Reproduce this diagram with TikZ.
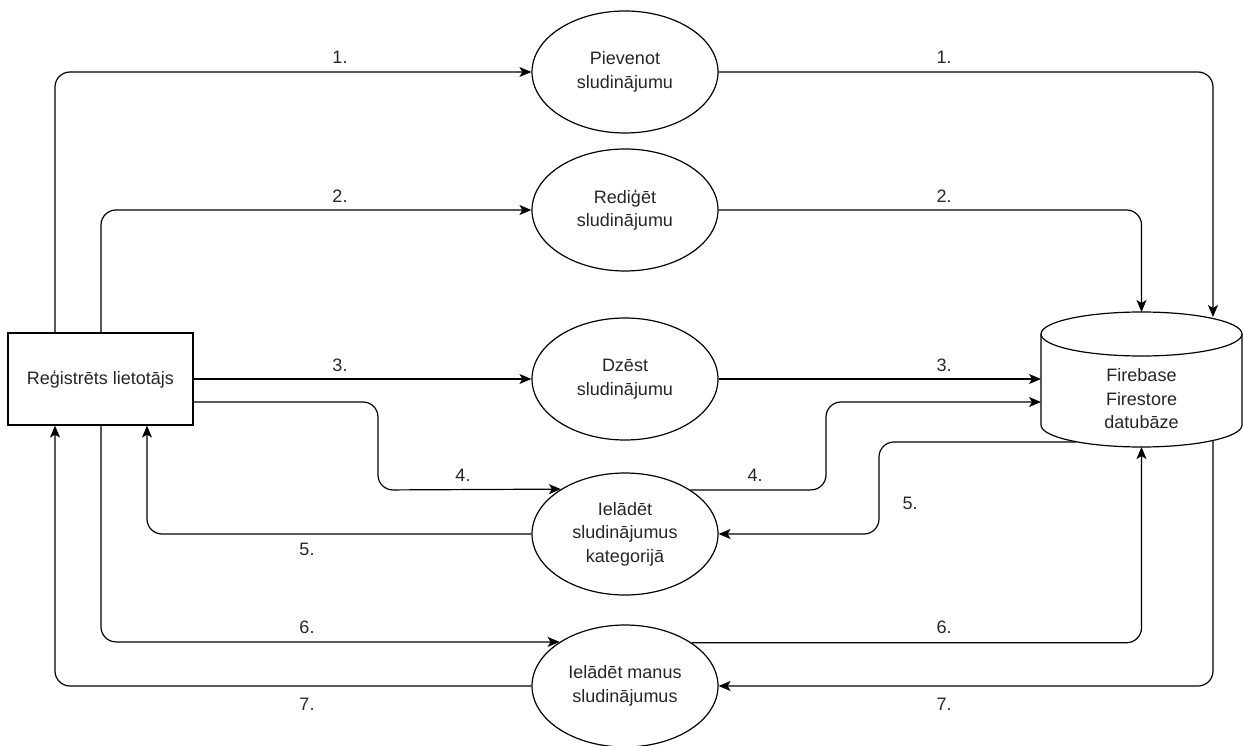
\documentclass[tikz,border=0pt]{standalone}
\usepackage{fontspec}
\setmainfont{Liberation Sans}
\usetikzlibrary{shapes.geometric,arrows.meta}
\begin{document}
\begin{tikzpicture}[x=1pt,y=-1pt,
  every node/.style={font=\fontsize{18}{23.5}\selectfont,text=black!85},
  usecase/.style={ellipse,draw,line width=1.2pt,minimum width=186pt,minimum height=122pt,inner sep=0pt,align=center},
  actor/.style={rectangle,draw,line width=1.2pt,minimum width=185pt,minimum height=92pt,align=center},
  flow/.style={line width=1.2pt,rounded corners=15pt,-{Stealth[length=12pt,width=10pt,inset=3pt]}},
  wall/.style={line width=1.2pt},
  num/.style={inner sep=0pt}]
\useasboundingbox (0,0) rectangle (1243,746);

% actor and use cases
\node[actor] (user) at (100.5,379) {Reģistrēts lietotājs};
\node[usecase] (add)  at (625,72)  {Pievenot\\sludinājumu};
\node[usecase] (edit) at (625,210) {Rediģēt\\sludinājumu};
\node[usecase] (del)  at (625,379) {Dzēst\\sludinājumu};
\node[usecase] (cat)  at (625,534) {Ielādēt\\sludinājumus\\kategorijā};
\node[usecase] (mine) at (625,686) {Ielādēt manus\\sludinājumus};

% database cylinder
\draw[wall,fill=white] (1041,334) -- (1041,425)
  arc[start angle=180,end angle=360,x radius=100.5pt,y radius=22pt] -- (1242,334)
  arc[start angle=0,end angle=180,x radius=100.5pt,y radius=22pt] -- cycle;
\draw[wall] (1041,334) arc[start angle=180,end angle=360,x radius=100.5pt,y radius=22pt];
\node[align=center] (db) at (1141.5,399) {Firebase\\Firestore\\datubāze};

% connection points on the cylinder
\coordinate (dbTopA) at (1141.5,312);
\coordinate (dbTopB) at (1213,317);
\coordinate (dbL1) at (1041,379);
\coordinate (dbL2) at (1041,402);
\coordinate (dbL5) at (1076,442);
\coordinate (dbBotA) at (1141.5,447);
\coordinate (dbBotB) at (1213,440);

% routing columns and bends
\coordinate (xa) at (55,0);
\coordinate (xb) at (101,0);
\coordinate (xc) at (147,0);
\coordinate (j4) at (378,490);
\coordinate (j4r) at (826,402);
\coordinate (j5) at (879,534);

% 1. add
\draw[flow] (user.north -| xa) |- (add.west);
\draw[flow] (add.east) -| (dbTopB);
% 2. edit
\draw[flow] (user.north -| xb) |- (edit.west);
\draw[flow] (edit.east) -| (dbTopA);
% 3. delete
\draw[flow] (user.east) -- (del.west);
\draw[flow] (del.east) -- (dbL1);
% 4. load by category (request)
\draw[flow] (user.east |- dbL2) -| (j4) -- (cat.145.7);
\draw[flow] (cat.34.3) -| (j4r) -- (dbL2);
% 5. load by category (result)
\draw[flow] (dbL5) -| (j5) -- (cat.east);
\draw[flow] (cat.west) -| (user.south -| xc);
% 6. load own (request)
\draw[flow] (user.south -| xb) |- (mine.146.9);
\draw[flow] (mine.33.1) -| (dbBotA);
% 7. load own (result)
\draw[flow] (dbBotB) |- (mine.east);
\draw[flow] (mine.west) -| (user.south -| xa);

% step numbers
\node[num] (n1a) at (340,57) {1.};
\node[num] (n1b) at (944,57) {1.};
\node[num] (n2a) at (340,196) {2.};
\node[num] (n2b) at (944,196) {2.};
\node[num] (n3a) at (340,365) {3.};
\node[num] (n3b) at (944,365) {3.};
\node[num] (n4a) at (463,475) {4.};
\node[num] (n4b) at (755,475) {4.};
\node[num] (n5a) at (307,549) {5.};
\node[num] (n5b) at (910,503) {5.};
\node[num] (n6a) at (307,627) {6.};
\node[num] (n6b) at (944,627) {6.};
\node[num] (n7a) at (307,704) {7.};
\node[num] (n7b) at (944,704) {7.};
\end{tikzpicture}
\end{document}
